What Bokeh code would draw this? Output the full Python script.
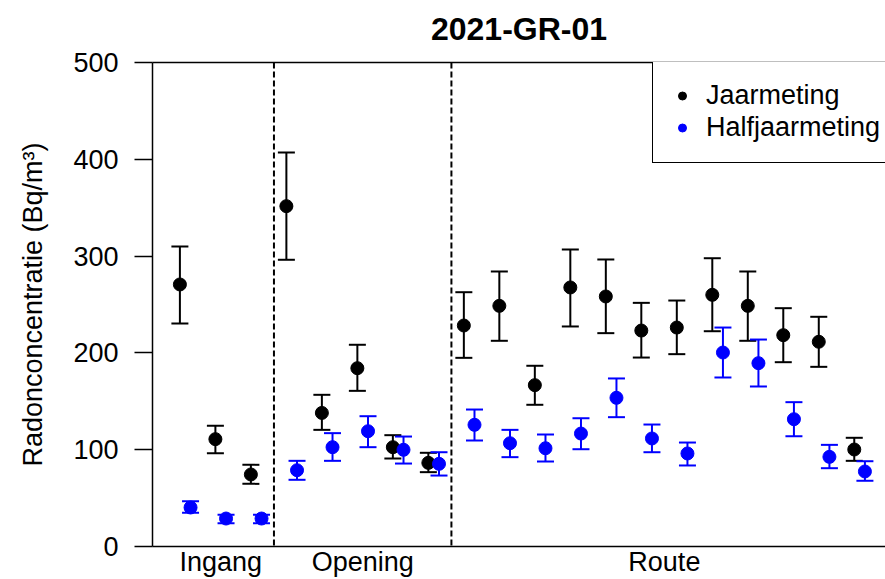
from bokeh.plotting import figure
from bokeh.models import (Range1d, FixedTicker, LinearAxis, Span, Whisker, TeeHead,
                          ColumnDataSource, Legend, LegendItem)
from bokeh.embed import file_html
from bokeh.resources import INLINE

# ---- data ----
title_text = "2021-GR-01"
group_names = ["Ingang", "Opening", "Route"]
group_sizes = [3, 5, 12]

jaar = [270.7, 110.9, 74.4, 351.6, 138.0, 184.2, 102.6, 86.4,
        228.3, 248.6, 166.7, 267.6, 258.3, 223.1, 226.2, 260.0, 248.6, 218.3, 211.5, 100.2]
jaar_lo = [230.4, 96.4, 64.7, 296.2, 120.5, 160.8, 90.9, 76.8,
           194.9, 212.5, 146.4, 227.3, 220.4, 195.2, 198.7, 222.4, 212.5, 190.4, 185.6, 88.5]
jaar_hi = [310.0, 124.7, 84.4, 407.0, 156.7, 208.4, 115.0, 96.8,
           262.7, 284.1, 186.7, 306.8, 296.5, 251.7, 254.1, 297.8, 284.1, 246.2, 237.3, 112.3]

half = [40.3, 28.9, 28.9, 78.8, 102.6, 119.1, 99.9, 85.4,
        125.7, 106.7, 101.5, 116.7, 153.6, 111.6, 96.1, 200.4, 189.4, 131.5, 92.6, 77.5]
half_lo = [34.8, 24.1, 24.1, 68.9, 88.5, 102.6, 85.7, 73.3,
           109.5, 92.3, 87.8, 100.5, 133.6, 97.4, 83.7, 174.6, 165.3, 113.9, 80.9, 67.9]
half_hi = [46.8, 32.7, 32.7, 88.5, 117.1, 134.6, 113.6, 97.4,
           141.5, 120.5, 115.7, 132.5, 173.6, 126.0, 107.4, 226.2, 213.8, 149.1, 105.0, 88.1]

y_ticks = [0, 100, 200, 300, 400, 500]

# ---- derived positions ----
OFFSET = 0.3
n = len(jaar)
xj = [i + 1 for i in range(n)]
xh = [x + OFFSET for x in xj]

bounds = []
start = 1
for s in group_sizes:
    bounds.append((start, start + s - 1))
    start += s
centers = [(a + b + OFFSET) / 2 for a, b in bounds]
separators = [(b + OFFSET + b + 1) / 2 for a, b in bounds[:-1]]

FONT = "Liberation Sans"
FS = "27px"

p = figure(width=885, height=579, output_backend="svg", toolbar_location=None,
           x_range=Range1d(0.228, 20.88), y_range=Range1d(0, 500),
           min_border_left=152, min_border_right=0, min_border_top=62, min_border_bottom=33)
p.outline_line_color = None
p.grid.visible = False
p.background_fill_color = "white"
p.border_fill_color = "white"

# y axis
ya = p.yaxis[0]
ya.ticker = FixedTicker(ticks=y_ticks)
ya.axis_label = "Radonconcentratie (Bq/m³)"
ya.axis_label_text_font = FONT
ya.axis_label_text_font_size = FS
ya.axis_label_text_font_style = "normal"
ya.axis_label_text_color = "black"
ya.axis_label_standoff = 22
ya.major_label_text_font = FONT
ya.major_label_text_font_size = FS
ya.major_label_text_color = "black"
ya.major_label_standoff = 16
ya.major_tick_out = 18
ya.major_tick_in = 0
ya.minor_tick_line_color = None
ya.major_tick_line_width = 1.5
ya.axis_line_width = 1.5
ya.axis_line_color = "black"
ya.major_tick_line_color = "black"

# x axis
xa = p.xaxis[0]
xa.ticker = FixedTicker(ticks=centers)
xa.major_label_overrides = {c: g for c, g in zip(centers, group_names)}
xa.major_label_text_font = FONT
xa.major_label_text_font_size = FS
xa.major_label_text_color = "black"
xa.major_label_standoff = 0
xa.major_tick_line_color = None
xa.minor_tick_line_color = None
xa.major_tick_out = 0
xa.major_tick_in = 0
xa.axis_line_width = 1.5
xa.axis_line_color = "black"

# top box line, carrying the chart title
top = LinearAxis(ticker=FixedTicker(ticks=[]), axis_line_width=1.5, axis_line_color="black",
                 major_tick_line_color=None, minor_tick_line_color=None,
                 major_tick_out=0, major_tick_in=0, major_label_standoff=0,
                 axis_label=title_text, axis_label_standoff=16,
                 axis_label_text_font=FONT, axis_label_text_font_size="32px",
                 axis_label_text_font_style="bold", axis_label_text_color="black")
p.add_layout(top, "above")

# group separators
for s in separators:
    p.add_layout(Span(location=s, dimension="height", line_color="black",
                      line_dash="6 3", line_width=2))

src_j = ColumnDataSource(dict(x=xj, y=jaar, lo=jaar_lo, hi=jaar_hi))
src_h = ColumnDataSource(dict(x=xh, y=half, lo=half_lo, hi=half_hi))

for src, col in ((src_j, "black"), (src_h, "blue")):
    w = Whisker(source=src, base="x", lower="lo", upper="hi", dimension="height",
                line_color=col, line_width=2,
                upper_head=TeeHead(size=17, line_color=col, line_width=2),
                lower_head=TeeHead(size=17, line_color=col, line_width=2))
    p.add_layout(w)

rj = p.scatter("x", "y", source=src_j, size=13, color="black")
rh = p.scatter("x", "y", source=src_h, size=13, color="blue")

legend = Legend(items=[LegendItem(label="Jaarmeting", renderers=[rj]),
                       LegendItem(label="Halfjaarmeting", renderers=[rh])],
                location=(500, 383), label_text_font=FONT, label_text_font_size=FS,
                label_text_color="black", border_line_color="black", border_line_width=1.5,
                border_line_alpha=1, background_fill_color="white", background_fill_alpha=1,
                padding=19, spacing=1, margin=0, glyph_width=20, glyph_height=31,
                label_height=31, label_standoff=14)
p.add_layout(legend, "center")

open("out.html", "w").write(file_html(p, INLINE))
